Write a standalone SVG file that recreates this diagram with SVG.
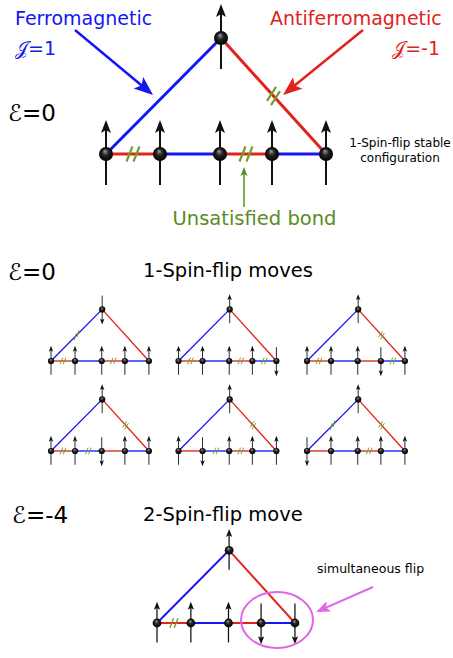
<svg xmlns="http://www.w3.org/2000/svg" xmlns:xlink="http://www.w3.org/1999/xlink" width="453" height="658" viewBox="0 0 453 658">
<style>
text{font-family:"DejaVu Sans","Noto Sans",sans-serif}
.bl{stroke:#1616f0;stroke-width:3;fill:none}
.rd{stroke:#e0231c;stroke-width:3;fill:none}
.hs{stroke:#6ea12c;stroke-width:2.2;fill:none}
.spin{stroke:#111;stroke-width:2;fill:none}
.lbl{font-size:19px}
.eps{font-size:23px;fill:#000}
.small{font-size:12px;fill:#000}
</style>
<defs>
<radialGradient id="sph" cx="0.5" cy="0.5" r="0.5" fx="0.42" fy="0.28">
<stop offset="0" stop-color="#a0a0a0"/><stop offset="0.45" stop-color="#262626"/><stop offset="1" stop-color="#000"/>
</radialGradient>
<g id="spinUp"><path class="spin" d="M0,31V-25"/><path d="M0,-34L-5,-21L0,-24L5,-21Z" fill="#111"/></g>
<circle id="ball" r="7" fill="url(#sph)"/>
<path id="hashH" class="hs" d="M-6.5,7.5L-0.5,-7.5M0.5,7.5L6.5,-7.5"/>
<path id="hashR" class="hs" d="M-6.5,4.8L2.5,-9.2M-2.5,9.2L6.5,-4.8"/>
<path id="hashL" class="hs" d="M-5,10.8L-1,-4.2M1,4.2L5,-10.8"/>
<marker id="mBlue" markerUnits="userSpaceOnUse" orient="auto" overflow="visible" refX="0" refY="0"><path d="M5,0L-14,-7.5L-10,0L-14,7.5Z" fill="#1616f0"/></marker>
<marker id="mRed" markerUnits="userSpaceOnUse" orient="auto" overflow="visible" refX="0" refY="0"><path d="M5,0L-14,-7.5L-10,0L-14,7.5Z" fill="#e0231c"/></marker>
<marker id="mGreen" markerUnits="userSpaceOnUse" orient="auto" overflow="visible" refX="0" refY="0"><path d="M3,0L-6,-3.5L-4,0L-6,3.5Z" fill="#5a8c25"/></marker>
<marker id="mMag" markerUnits="userSpaceOnUse" orient="auto" overflow="visible" refX="0" refY="0"><path d="M4,0L-10,-5.5L-7,0L-10,5.5Z" fill="#e066e6"/></marker>
</defs>

<!-- Main triangle -->
<g id="tri-main" transform="translate(106,154)">
<g id="tri-main-bonds">
<path class="bl" d="M0,0L115,-116"/><path class="rd" d="M115,-116L220,0"/>
<path class="rd" d="M0,0H54"/><path class="bl" d="M54,0H114"/><path class="rd" d="M114,0H166"/><path class="bl" d="M166,0H220"/>
<use xlink:href="#hashH" x="27"/><use xlink:href="#hashH" x="140"/><use xlink:href="#hashR" x="167.5" y="-58"/>
</g>
<g id="tri-main-apex" transform="translate(115,-116)"><use xlink:href="#spinUp"/><use xlink:href="#ball"/></g>
<g id="tri-main-n0"><use xlink:href="#spinUp"/><use xlink:href="#ball"/></g>
<g id="tri-main-n1" transform="translate(54,0)"><use xlink:href="#spinUp"/><use xlink:href="#ball"/></g>
<g id="tri-main-n2" transform="translate(114,0)"><use xlink:href="#spinUp"/><use xlink:href="#ball"/></g>
<g id="tri-main-n3" transform="translate(166,0)"><use xlink:href="#spinUp"/><use xlink:href="#ball"/></g>
<g id="tri-main-n4" transform="translate(220,0)"><use xlink:href="#spinUp"/><use xlink:href="#ball"/></g>
</g>

<!-- T1: apex flipped -->
<g id="tri-1" transform="translate(51,361) scale(0.445)">
<g id="tri-1-bonds">
<path class="bl" d="M0,0L115,-116"/><path class="rd" d="M115,-116L220,0"/>
<path class="rd" d="M0,0H54"/><path class="bl" d="M54,0H114"/><path class="rd" d="M114,0H166"/><path class="bl" d="M166,0H220"/>
<use xlink:href="#hashH" x="27"/><use xlink:href="#hashH" x="140"/><use xlink:href="#hashL" x="57.5" y="-58"/>
</g>
<g id="tri-1-apex" transform="translate(115,-116)"><use xlink:href="#spinUp" transform="rotate(180)"/><use xlink:href="#ball"/></g>
<g id="tri-1-n0"><use xlink:href="#spinUp"/><use xlink:href="#ball"/></g>
<g id="tri-1-n1" transform="translate(54,0)"><use xlink:href="#spinUp"/><use xlink:href="#ball"/></g>
<g id="tri-1-n2" transform="translate(114,0)"><use xlink:href="#spinUp"/><use xlink:href="#ball"/></g>
<g id="tri-1-n3" transform="translate(166,0)"><use xlink:href="#spinUp"/><use xlink:href="#ball"/></g>
<g id="tri-1-n4" transform="translate(220,0)"><use xlink:href="#spinUp"/><use xlink:href="#ball"/></g>
</g>

<!-- T2: n4 flipped -->
<g id="tri-2" transform="translate(178.5,361) scale(0.445)">
<g id="tri-2-bonds">
<path class="bl" d="M0,0L115,-116"/><path class="rd" d="M115,-116L220,0"/>
<path class="rd" d="M0,0H54"/><path class="bl" d="M54,0H114"/><path class="rd" d="M114,0H166"/><path class="bl" d="M166,0H220"/>
<use xlink:href="#hashH" x="27"/><use xlink:href="#hashH" x="140"/><use xlink:href="#hashH" x="193"/>
</g>
<g id="tri-2-apex" transform="translate(115,-116)"><use xlink:href="#spinUp"/><use xlink:href="#ball"/></g>
<g id="tri-2-n0"><use xlink:href="#spinUp"/><use xlink:href="#ball"/></g>
<g id="tri-2-n1" transform="translate(54,0)"><use xlink:href="#spinUp"/><use xlink:href="#ball"/></g>
<g id="tri-2-n2" transform="translate(114,0)"><use xlink:href="#spinUp"/><use xlink:href="#ball"/></g>
<g id="tri-2-n3" transform="translate(166,0)"><use xlink:href="#spinUp"/><use xlink:href="#ball"/></g>
<g id="tri-2-n4" transform="translate(220,0)"><use xlink:href="#spinUp" transform="rotate(180)"/><use xlink:href="#ball"/></g>
</g>

<!-- T3: n3 flipped -->
<g id="tri-3" transform="translate(307,361) scale(0.445)">
<g id="tri-3-bonds">
<path class="bl" d="M0,0L115,-116"/><path class="rd" d="M115,-116L220,0"/>
<path class="rd" d="M0,0H54"/><path class="bl" d="M54,0H114"/><path class="rd" d="M114,0H166"/><path class="bl" d="M166,0H220"/>
<use xlink:href="#hashH" x="27"/><use xlink:href="#hashH" x="193"/><use xlink:href="#hashR" x="167.5" y="-58"/>
</g>
<g id="tri-3-apex" transform="translate(115,-116)"><use xlink:href="#spinUp"/><use xlink:href="#ball"/></g>
<g id="tri-3-n0"><use xlink:href="#spinUp"/><use xlink:href="#ball"/></g>
<g id="tri-3-n1" transform="translate(54,0)"><use xlink:href="#spinUp"/><use xlink:href="#ball"/></g>
<g id="tri-3-n2" transform="translate(114,0)"><use xlink:href="#spinUp"/><use xlink:href="#ball"/></g>
<g id="tri-3-n3" transform="translate(166,0)"><use xlink:href="#spinUp" transform="rotate(180)"/><use xlink:href="#ball"/></g>
<g id="tri-3-n4" transform="translate(220,0)"><use xlink:href="#spinUp"/><use xlink:href="#ball"/></g>
</g>

<!-- T4: n2 flipped -->
<g id="tri-4" transform="translate(51,451) scale(0.445)">
<g id="tri-4-bonds">
<path class="bl" d="M0,0L115,-116"/><path class="rd" d="M115,-116L220,0"/>
<path class="rd" d="M0,0H54"/><path class="bl" d="M54,0H114"/><path class="rd" d="M114,0H166"/><path class="bl" d="M166,0H220"/>
<use xlink:href="#hashH" x="27"/><use xlink:href="#hashH" x="84"/><use xlink:href="#hashR" x="167.5" y="-58"/>
</g>
<g id="tri-4-apex" transform="translate(115,-116)"><use xlink:href="#spinUp"/><use xlink:href="#ball"/></g>
<g id="tri-4-n0"><use xlink:href="#spinUp"/><use xlink:href="#ball"/></g>
<g id="tri-4-n1" transform="translate(54,0)"><use xlink:href="#spinUp"/><use xlink:href="#ball"/></g>
<g id="tri-4-n2" transform="translate(114,0)"><use xlink:href="#spinUp" transform="rotate(180)"/><use xlink:href="#ball"/></g>
<g id="tri-4-n3" transform="translate(166,0)"><use xlink:href="#spinUp"/><use xlink:href="#ball"/></g>
<g id="tri-4-n4" transform="translate(220,0)"><use xlink:href="#spinUp"/><use xlink:href="#ball"/></g>
</g>

<!-- T5: n1 flipped -->
<g id="tri-5" transform="translate(178.5,451) scale(0.445)">
<g id="tri-5-bonds">
<path class="bl" d="M0,0L115,-116"/><path class="rd" d="M115,-116L220,0"/>
<path class="rd" d="M0,0H54"/><path class="bl" d="M54,0H114"/><path class="rd" d="M114,0H166"/><path class="bl" d="M166,0H220"/>
<use xlink:href="#hashH" x="84"/><use xlink:href="#hashH" x="140"/><use xlink:href="#hashR" x="167.5" y="-58"/>
</g>
<g id="tri-5-apex" transform="translate(115,-116)"><use xlink:href="#spinUp"/><use xlink:href="#ball"/></g>
<g id="tri-5-n0"><use xlink:href="#spinUp"/><use xlink:href="#ball"/></g>
<g id="tri-5-n1" transform="translate(54,0)"><use xlink:href="#spinUp" transform="rotate(180)"/><use xlink:href="#ball"/></g>
<g id="tri-5-n2" transform="translate(114,0)"><use xlink:href="#spinUp"/><use xlink:href="#ball"/></g>
<g id="tri-5-n3" transform="translate(166,0)"><use xlink:href="#spinUp"/><use xlink:href="#ball"/></g>
<g id="tri-5-n4" transform="translate(220,0)"><use xlink:href="#spinUp"/><use xlink:href="#ball"/></g>
</g>

<!-- T6: n0 flipped -->
<g id="tri-6" transform="translate(307,451) scale(0.445)">
<g id="tri-6-bonds">
<path class="bl" d="M0,0L115,-116"/><path class="rd" d="M115,-116L220,0"/>
<path class="rd" d="M0,0H54"/><path class="bl" d="M54,0H114"/><path class="rd" d="M114,0H166"/><path class="bl" d="M166,0H220"/>
<use xlink:href="#hashH" x="140"/><use xlink:href="#hashL" x="57.5" y="-58"/><use xlink:href="#hashR" x="167.5" y="-58"/>
</g>
<g id="tri-6-apex" transform="translate(115,-116)"><use xlink:href="#spinUp"/><use xlink:href="#ball"/></g>
<g id="tri-6-n0"><use xlink:href="#spinUp" transform="rotate(180)"/><use xlink:href="#ball"/></g>
<g id="tri-6-n1" transform="translate(54,0)"><use xlink:href="#spinUp"/><use xlink:href="#ball"/></g>
<g id="tri-6-n2" transform="translate(114,0)"><use xlink:href="#spinUp"/><use xlink:href="#ball"/></g>
<g id="tri-6-n3" transform="translate(166,0)"><use xlink:href="#spinUp"/><use xlink:href="#ball"/></g>
<g id="tri-6-n4" transform="translate(220,0)"><use xlink:href="#spinUp"/><use xlink:href="#ball"/></g>
</g>

<!-- Bottom: 2-spin flip -->
<g id="tri-7" transform="translate(157,623) scale(0.627)">
<g id="tri-7-bonds">
<path class="bl" d="M0,0L115,-116"/><path class="rd" d="M115,-116L220,0"/>
<path class="rd" d="M0,0H54"/><path class="bl" d="M54,0H114"/><path class="rd" d="M114,0H166"/><path class="bl" d="M166,0H220"/>
<use xlink:href="#hashH" x="27"/>
</g>
<g id="tri-7-apex" transform="translate(115,-116)"><use xlink:href="#spinUp"/><use xlink:href="#ball"/></g>
<g id="tri-7-n0"><use xlink:href="#spinUp"/><use xlink:href="#ball"/></g>
<g id="tri-7-n1" transform="translate(54,0)"><use xlink:href="#spinUp"/><use xlink:href="#ball"/></g>
<g id="tri-7-n2" transform="translate(114,0)"><use xlink:href="#spinUp"/><use xlink:href="#ball"/></g>
<g id="tri-7-n3" transform="translate(166,0)"><use xlink:href="#spinUp" transform="rotate(180)"/><use xlink:href="#ball"/></g>
<g id="tri-7-n4" transform="translate(220,0)"><use xlink:href="#spinUp" transform="rotate(180)"/><use xlink:href="#ball"/></g>
</g>

<!-- connectors: label pointers -->
<g id="connectors" fill="none">
<path d="M75,30L149.2,91.8" stroke="#1616f0" stroke-width="2.5" marker-end="url(#mBlue)"/>
<path d="M363,30L286.9,91.8" stroke="#e0231c" stroke-width="2.5" marker-end="url(#mRed)"/>
<path d="M244,207L244,170" stroke="#5a8c25" stroke-width="1.5" marker-end="url(#mGreen)"/>
<path d="M373,587L319.7,610.4" stroke="#e066e6" stroke-width="2" marker-end="url(#mMag)"/>
<ellipse cx="277" cy="620" rx="36" ry="28" stroke="#e066e6" stroke-width="2"/>
</g>

<!-- labels -->
<g id="labels">
<text class="lbl" x="15" y="25" fill="#1616f0">Ferromagnetic</text>
<text class="lbl" x="15" y="55" fill="#1616f0">𝒥=1</text>
<text class="lbl" x="270" y="25" fill="#e0231c">Antiferromagnetic</text>
<text class="lbl" x="440" y="55" fill="#e0231c" text-anchor="end">𝒥=-1</text>
<text class="eps" x="8" y="121">ℰ=0</text>
<text class="small" x="400" y="147" text-anchor="middle">1-Spin-flip stable</text>
<text class="small" x="400" y="162" text-anchor="middle">configuration</text>
<text x="254.5" y="225" font-size="19.5" fill="#5a8c25" text-anchor="middle">Unsatisfied bond</text>
<text class="eps" x="8" y="280">ℰ=0</text>
<text x="143" y="277" font-size="19.5" fill="#000">1-Spin-flip moves</text>
<text class="eps" x="12" y="523">ℰ=-4</text>
<text x="143" y="521" font-size="19.5" fill="#000">2-Spin-flip move</text>
<text x="317" y="573" font-size="12.5" fill="#000">simultaneous flip</text>
</g>
</svg>
